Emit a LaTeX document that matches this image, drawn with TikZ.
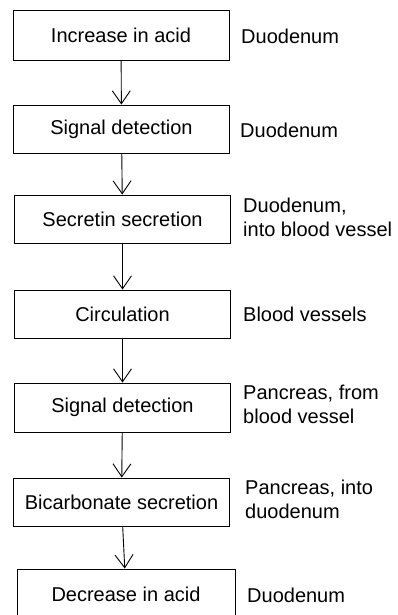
\documentclass[tikz,border=0pt]{standalone}
\usepackage{fontspec}
\setmainfont{Liberation Sans}
\usetikzlibrary{arrows.meta}
\begin{document}
\begin{tikzpicture}[x=1pt,y=-1pt,
  stepbox/.style={draw, line width=0.9pt, minimum width=216pt, minimum height=48pt,
    inner sep=0pt, font=\fontsize{20}{23}\selectfont},
  place/.style={anchor=base west, align=left, inner sep=0pt,
    font=\fontsize{20}{24}\selectfont},
  arr/.style={line width=0.9pt, -{Straight Barb[length=13pt,width=18pt,line width=0.9pt]}}]
\useasboundingbox (0,0) rectangle (397,615);

\node[stepbox, minimum height=50pt] (b1) at (121,35) {Increase in acid};
\node[stepbox] (b2) at (121.5,129) {Signal detection};
\node[stepbox] (b3) at (122.5,219) {Secretin secretion};
\node[stepbox] (b4) at (122.5,314) {Circulation};
\node[stepbox, minimum height=49pt] (b5) at (122.5,407.5) {Signal detection};
\node[stepbox] (b6) at (121.5,502) {Bicarbonate secretion};
\node[stepbox, minimum height=50pt, minimum width=218pt] (b7) at (126,594) {Decrease in acid};

\draw[arr] (b1) -- (b2);
\draw[arr] (b2) -- (b3);
\draw[arr] (b3) -- (b4);
\draw[arr] (b4) -- (b5);
\draw[arr] (b5) -- (b6);
\draw[arr] (b6) -- (b7);

\node[place] (l1) at (241,44) {Duodenum};
\node[place] (l2) at (240,137) {Duodenum};
\node[place] (l3) at (243,236) {Duodenum,\\into blood vessel};
\node[place] (l4) at (243,321) {Blood vessels};
\node[place] (l5) at (243,423) {Pancreas, from\\blood vessel};
\node[place] (l6) at (245,518) {Pancreas, into\\duodenum};
\node[place] (l7) at (247,602) {Duodenum};
\end{tikzpicture}
\end{document}
